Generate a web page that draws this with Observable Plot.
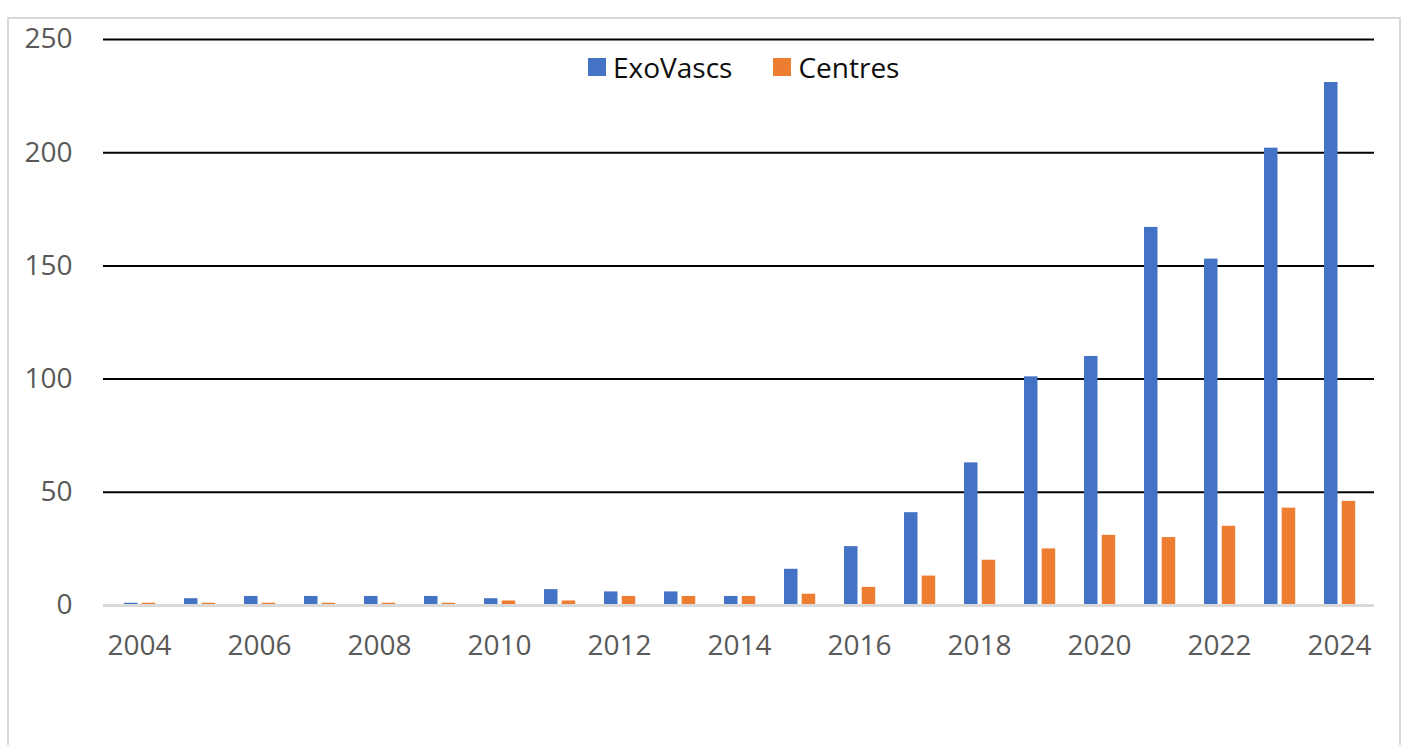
<!DOCTYPE html>
<html>
<head>
<meta charset="utf-8">
<script src="https://cdn.jsdelivr.net/npm/d3@7"></script>
<script src="https://cdn.jsdelivr.net/npm/@observablehq/plot@0.6"></script>
<style>
  html, body { margin: 0; padding: 0; background: #fff; }
  #wrap { position: relative; width: 1408px; height: 745px; overflow: hidden; font-family: "Open Sans", sans-serif; }
  #frame { position: absolute; left: 7px; top: 17px; width: 1394px; height: 800px; border: 2px solid #d9d9d9; box-sizing: border-box; }
  #chart { position: absolute; left: 0; top: 0; }
  #legend { position: absolute; top: 49px; left: 588px; display: flex; align-items: center; font-size: 28px; color: #0d0d0d; line-height: 36px; }
  .sw { width: 18px; height: 18px; display: inline-block; margin-right: 7px; }
  .item { display: flex; align-items: center; }
</style>
</head>
<body>
<div id="wrap">
  <div id="frame"></div>
  <div id="chart"></div>
  <div id="legend"></div>
</div>
<script>
const years = [2004,2005,2006,2007,2008,2009,2010,2011,2012,2013,2014,2015,2016,2017,2018,2019,2020,2021,2022,2023,2024];
const exoVascs = [1,3,4,4,4,4,3,7,6,6,4,16,26,41,63,101,110,167,153,202,231];
const centres  = [1,1,1,1,1,1,2,2,4,4,4,5,8,13,20,25,31,30,35,43,46];
const seriesNames = ["ExoVascs", "Centres"];
const colors = ["#4472C4", "#ED7D31"];
const yTicks = [0,50,100,150,200,250];
const xTickYears = years.filter(y => y % 2 === 0);

const rows = years.map((y, i) => ({year: y, exo: exoVascs[i], cen: centres[i]}));

const chart = Plot.plot({
  width: 1408,
  height: 745,
  marginLeft: 103,
  marginRight: 34,
  marginTop: 39,
  marginBottom: 140,
  style: {fontFamily: "Open Sans, sans-serif", fontSize: "28px", color: "#595959", background: "transparent"},
  x: {type: "band", domain: years, padding: 0, label: null},
  y: {domain: [0, 250], label: null},
  marks: [
    Plot.ruleY(yTicks.filter(d => d > 0), {stroke: "#000", strokeWidth: 2}),
    Plot.barY(rows, {x: "year", y: "exo", fill: colors[0], insetLeft: 15, insetRight: 31.5}),
    Plot.barY(rows, {x: "year", y: "cen", fill: colors[1], insetLeft: 32.7, insetRight: 13.8}),
    Plot.ruleY([0], {stroke: "#d9d9d9", strokeWidth: 3}),
    Plot.axisY({ticks: yTicks, tickSize: 0, tickPadding: 31, label: null, fill: "#595959"}),
    Plot.axisX({ticks: xTickYears, tickSize: 0, tickPadding: 30, tickFormat: d => String(d), label: null, fill: "#595959"})
  ]
});
document.getElementById("chart").appendChild(chart);

const legend = document.getElementById("legend");
seriesNames.forEach((name, i) => {
  const item = document.createElement("span");
  item.className = "item";
  item.style.marginRight = i === 0 ? "41px" : "0";
  const sw = document.createElement("span");
  sw.className = "sw";
  sw.style.background = colors[i];
  item.appendChild(sw);
  item.appendChild(document.createTextNode(name));
  legend.appendChild(item);
});
</script>
</body>
</html>
